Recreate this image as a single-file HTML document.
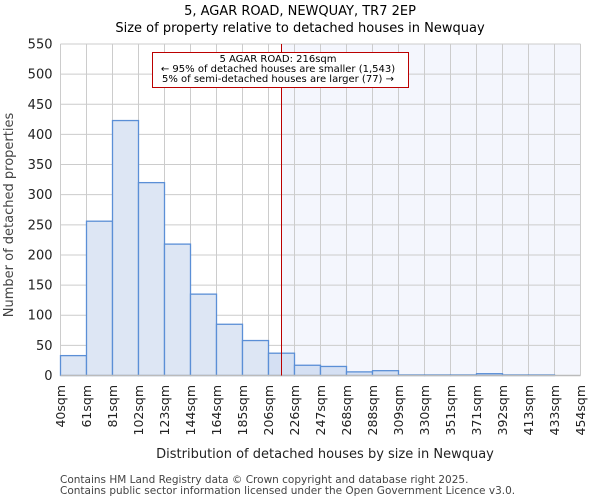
<!DOCTYPE html>
<html><head><meta charset="utf-8"><style>
body{margin:0;background:#fff;font-family:"DejaVu Sans","Liberation Sans",sans-serif}
svg text{font-family:"DejaVu Sans","Liberation Sans",sans-serif}
</style></head><body>
<svg id="chart" width="600" height="500" xmlns="http://www.w3.org/2000/svg">
<text x="300" y="15" text-anchor="middle" font-size="13" fill="#000">5, AGAR ROAD, NEWQUAY, TR7 2EP</text>
<text x="300" y="32" text-anchor="middle" font-size="13" fill="#000">Size of property relative to detached houses in Newquay</text>
<g id="grid"></g>
<g id="bars"></g>
<g id="axes"></g>
<text x="325" y="458" text-anchor="middle" font-size="13" fill="#222">Distribution of detached houses by size in Newquay</text>
<text transform="translate(13,215) rotate(-90)" text-anchor="middle" font-size="13" fill="#444">Number of detached properties</text>
<text x="60" y="483" font-size="10.5" fill="#444">Contains HM Land Registry data © Crown copyright and database right 2025.</text>
<text x="60" y="494" font-size="10.5" fill="#444">Contains public sector information licensed under the Open Government Licence v3.0.</text>
</svg>
<script>
const binLabels=["40sqm","61sqm","81sqm","102sqm","123sqm","144sqm","164sqm","185sqm","206sqm","226sqm","247sqm","268sqm","288sqm","309sqm","330sqm","351sqm","371sqm","392sqm","413sqm","433sqm","454sqm"];
const counts=[33,256,423,320,218,135,85,58,37,17,15,6,8,1,1,1,3,1,1,0];
const yTicks=[0,50,100,150,200,250,300,350,400,450,500,550];
const propertySize=216;
const binEdges=[40,61,81,102,123,144,164,185,206,226,247,268,288,309,330,351,371,392,413,433,454];
const NS="http://www.w3.org/2000/svg";
const X0=60.5,X1=580.5,Y0=375.5,Y1=44;
const yMax=550;
const bw=(X1-X0)/counts.length;
function xIdx(i){return X0+i*bw;}
function yv(v){return Y0-(v/yMax)*(Y0-Y1);}
function xSize(s){let i=0;while(i<binEdges.length-2&&s>binEdges[i+1])i++;return xIdx(i)+(s-binEdges[i])/(binEdges[i+1]-binEdges[i])*bw;}
function mk(tag,attrs,parent){const e=document.createElementNS(NS,tag);for(const k in attrs)e.setAttribute(k,attrs[k]);parent.appendChild(e);return e;}
const grid=document.getElementById('grid'),bars=document.getElementById('bars'),axes=document.getElementById('axes');
const xr=xSize(propertySize);
const sh=mk('rect',{x:xr,y:Y1,width:X1-xr,height:Y0-Y1,fill:'#f4f6fd'},grid);


yTicks.forEach(t=>{
  const l=mk('line',{x1:X0,x2:X1,y1:yv(t),y2:yv(t),stroke:'#cccccc','stroke-width':1},grid);
  
  
  const tx=mk('text',{x:X0-8,y:yv(t)+4.5,'text-anchor':'end','font-size':13,fill:'#222'},axes);
  
  
  tx.textContent=t;
});
binLabels.forEach((lab,i)=>{
  const x=xIdx(i);
  const l=mk('line',{x1:x,x2:x,y1:Y1,y2:Y0,stroke:'#cccccc','stroke-width':1},grid);
  
  
  const tx=mk('text',{transform:`translate(${x+4.5},385) rotate(-90)`,'text-anchor':'end','font-size':12.5,fill:'#222'},axes);
  
  
  tx.textContent=lab;
});
counts.forEach((c,i)=>{
  if(c<=0)return;
  const r=mk('rect',{x:xIdx(i),y:yv(c),width:bw,height:Y0-yv(c),fill:xIdx(i)+bw>xr?'#d5e0f3':'#dde6f4',stroke:'#5b8fd6','stroke-width':1.3},bars);
  
  
});
const ax=mk('line',{x1:X0,x2:X1,y1:Y0,y2:Y0,stroke:'#bbbbbb','stroke-width':1.5},axes);


const rl=mk('line',{x1:xr,x2:xr,y1:Y1,y2:Y0,stroke:'#bb0000','stroke-width':1},axes);


const g=mk('g',{},axes);


mk('rect',{x:152.5,y:52.5,width:256,height:35,fill:'#fff',stroke:'#bb0000','stroke-width':1},g);
[["5 AGAR ROAD: 216sqm",62],["← 95% of detached houses are smaller (1,543)",72],["5% of semi-detached houses are larger (77) →",82]].forEach(([t,y])=>{
  const tx=mk('text',{x:278,y:y,'text-anchor':'middle','font-size':10,fill:'#000'},g);
  
  
  tx.textContent=t;
});
</script>
</body></html>
